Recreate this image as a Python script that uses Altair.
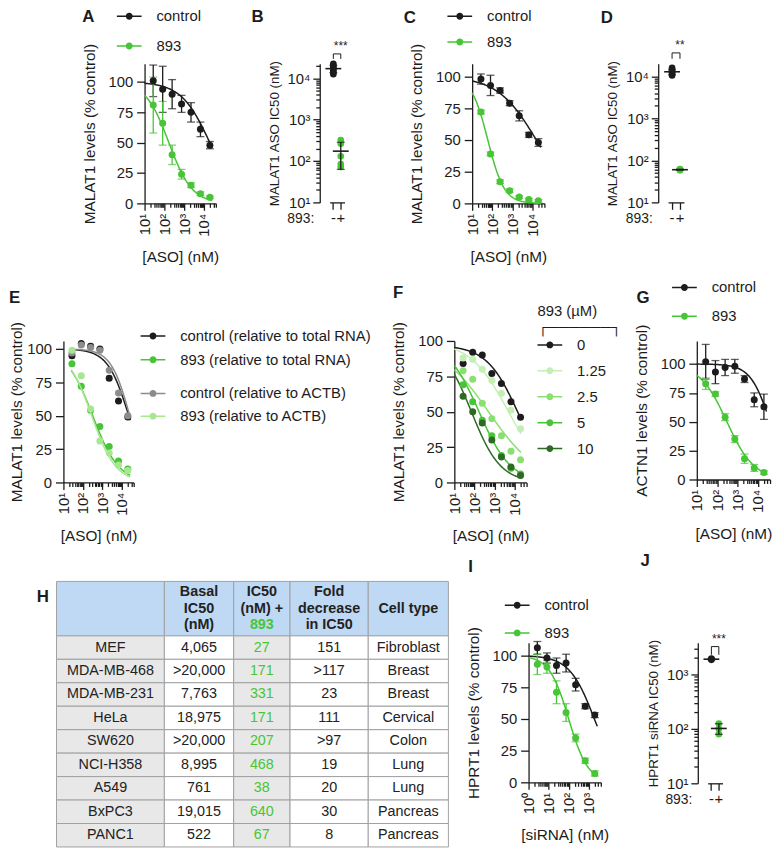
import altair as alt
import pandas as pd

FONT = "Liberation Sans"
INK = "#1c1c1c"
GREEN = "#47c536"
GRAY = "#8c8c8c"
LGREEN = "#a8e693"
F_COLORS = [INK, "#c4efb4", "#8ae06f", "#48c438", "#2d6b25"]
TXT = "#222222"

# ---------------- data ----------------
ASO_DOSES = [27.4, 82.3, 247, 741, 2222, 6667, 20000]
SIRNA_DOSES = [2.74, 8.23, 24.7, 74.1, 222, 667, 2000]

# fits: top, bottom, logIC50, hill
A_CTRL = [101, 94, 90, 82, 75, 61, 48]
A_CTRL_SD = [13, 19, 12, 7, 8, 6, 3]
A_893 = [81, 66, 40, 24, 15, 8, 5]
A_893_SD = [23, 18, 8, 4, 2, 1.5, 1]
A_FITS = [[100, 0, 4.3, 0.6], [100, 0, 2.23, 0.74]]

C_CTRL = [98, 93, 89, 79, 69, 54, 48]
C_CTRL_SD = [4, 8, 2, 2, 4, 2, 3]
C_893 = [72, 39, 17, 10, 5, 3, 2]
C_893_SD = [1.5, 1.5, 1.5, 1.5, 1, 1, 1]
C_FITS = [[100, 0, 4.2, 0.45], [100, 0, 1.78, 1.06]]

E_NAMES_1 = ["control (relative to total RNA)", "893 (relative to total RNA)"]
E_NAMES_2 = ["control (relative to ACTB)", "893 (relative to ACTB)"]
E_CTRL_TOT = [95, 104, 102, 100, 78, 61, 49]
E_893_TOT = [89, 72, 54, 42, 27, 16, 10]
E_CTRL_ACTB = [97, 103, 101, 99, 84, 67, 50]
E_893_ACTB = [99, 80, 55, 31, 22, 13, 9]
E_FITS_1 = [[100, 0, 4.35, 0.8], [100, 0, 2.5, 0.65]]
E_FITS_2 = [[100, 0, 4.4, 0.9], [100, 0, 2.45, 0.7]]

F_LEVELS = ["0", "1.25", "2.5", "5", "10"]
F_VALUES = [
    [84, 92, 90, 77, 70, 57, 46],
    [88, 87, 80, 72, 63, 51, 38],
    [79, 73, 56, 45, 33, 22, 16],
    [69, 57, 44, 33, 19, 10, 6],
    [61, 50, 42, 30, 18, 11, 5],
]
F_FITS = [[97, 0, 4.2, 0.55], [100, 0, 3.7, 0.45], [100, 0, 2.7, 0.35],
          [100, 0, 2.23, 0.55], [100, 0, 1.85, 0.6]]

G_CTRL = [102, 93, 97, 98, 87, 69, 63]
G_CTRL_SD = [15, 10, 7, 6, 3, 6, 11]
G_893 = [83, 74, 54, 35, 18, 10, 6]
G_893_SD = [5, 2, 3, 3, 4, 3, 1.5]
G_FITS = [[100, 0, 4.6, 0.9], [100, 0, 2.48, 0.65]]

I_CTRL = [106, 98, 92, 94, 77, 60, 53]
I_CTRL_SD = [5, 4, 6, 7, 5, 2, 2]
I_893 = [93, 91, 71, 55, 35, 17, 7]
I_893_SD = [8, 5, 9, 7, 3, 2, 2]
I_FITS = [[100, 0, 3.28, 0.7], [100, 0, 2.0, 0.9]]

B_CTRL = [12500, 14000, 15500, 17000, 18500, 20000, 22500]
B_893 = [320, 260, 130, 85, 72]
D_CTRL = [10500, 11500, 12500, 13000, 14000, 16000]
D_893 = [58, 59, 60, 61, 62]
J_CTRL = [1850, 1900, 1950]
J_893 = [80, 100, 125]
B_BRACKET = [10 ** 4.59, 10 ** 4.47]
D_BRACKET = [10 ** 4.56, 10 ** 4.42]
J_BRACKET = [10 ** 3.51, 10 ** 3.36]

TABLE_ROWS = ["MEF", "MDA-MB-468", "MDA-MB-231", "HeLa", "SW620", "NCI-H358", "A549", "BxPC3", "PANC1"]
TABLE_BASAL = ["4,065", ">20,000", "7,763", "18,975", ">20,000", "8,995", "761", "19,015", "522"]
TABLE_893 = ["27", "171", "331", "171", "207", "468", "38", "640", "67"]
TABLE_FOLD = ["151", ">117", "23", "111", ">97", "19", "20", "30", "8"]
TABLE_TYPE = ["Fibroblast", "Breast", "Breast", "Cervical", "Colon", "Lung", "Lung", "Pancreas", "Pancreas"]
TABLE_HEAD = ["", "Basal\nIC50\n(nM)", "IC50\n(nM) +", "Fold\ndecrease\nin IC50", "Cell type"]
TABLE_HEAD_GREEN = ["", "", "893", "", ""]

# ---------------- helpers ----------------
SUPS = "['⁰','¹','²','³','⁴','⁵']"
IS_MAJOR = "abs(log(datum.value)/LN10 - round(log(datum.value)/LN10)) < 0.001"
LOG_LABEL = f"({IS_MAJOR}) ? '10' + {SUPS}[round(log(datum.value)/LN10)] : ''"
SYMBOL = ("M-1,-0.06L-0.2,-0.06L-0.2,0.06L-1,0.06Z"
          "M0.2,-0.06L1,-0.06L1,0.06L0.2,0.06Z"
          "M-0.28,0A0.28,0.28,0,1,1,0.28,0A0.28,0.28,0,1,1,-0.28,0Z")


def log_ticks(lo, hi):
    out = []
    for e in range(-1, 7):
        for m in range(1, 10):
            v = round(m * 10 ** e, 6)
            if lo * 0.999 <= v <= hi * 1.001:
                out.append(v)
    return out


def tick_sz(major, minor):
    return {"condition": {"test": IS_MAJOR, "value": major}, "value": minor}


def spacer(w, h):
    return alt.Chart(pd.DataFrame({"z": []})).mark_point(opacity=0).properties(width=w, height=h)


def leg(x, y, row_pad, title=None, title_pad=0):
    kw = dict(orient="none", legendX=x, legendY=y, symbolType=SYMBOL, symbolSize=625,
              symbolStrokeWidth=0, symbolOpacity=1, rowPadding=row_pad, labelOffset=15,
              padding=0, labelLimit=400, labelFontSize=15, labelFont=FONT, labelColor=INK)
    if title:
        kw.update(title=title, titlePadding=title_pad, titleFontSize=15, titleFont=FONT,
                  titleFontWeight="normal", titleColor=INK, titleLineHeight=16)
    else:
        kw["title"] = None
    return alt.Legend(**kw)


def make_x(xdom, title):
    return alt.X("dose:Q", title=title,
                 scale=alt.Scale(type="log", domain=xdom, nice=False),
                 axis=alt.Axis(values=log_ticks(*xdom), labelExpr=LOG_LABEL, labelAngle=270,
                               labelOverlap=False, labelFlush=False, tickSize=tick_sz(7, 4),
                               labelPadding=3, titlePadding=14))


def make_y(ydom, title, field="val", tpad=11):
    return alt.Y(f"{field}:Q", title=title, scale=alt.Scale(domain=ydom, nice=False),
                 axis=alt.Axis(values=[0, 25, 50, 75, 100], tickSize=8, labelPadding=4,
                               titlePadding=tpad))


def curve(name, fit, rng, X, Y, cs):
    top, bot, lic, hill = fit
    expr = f"{bot} + ({top} - {bot}) / (1 + pow(10, (datum.lx - {lic}) * {hill}))"
    return (alt.Chart(alt.sequence(rng[0], rng[1], 0.025, as_="lx"))
            .transform_calculate(dose="pow(10, datum.lx)", val=expr, s=f"'{name}'")
            .mark_line(strokeWidth=1.5)
            .encode(x=X, y=Y, color=alt.Color("s:N", scale=cs, legend=None)))


def series_group(names, colors, vals, sds, fits, doses, rng, X, ydom, ytitle, legend, tpad=11):
    cs = alt.Scale(domain=names, range=colors)
    Y = make_y(ydom, ytitle, tpad=tpad)
    layers = [curve(n, f, rng, X, Y, cs) for n, f in zip(names, fits)]
    rows = []
    for i, n in enumerate(names):
        for j, d in enumerate(doses):
            v = vals[i][j]
            e = sds[i][j] if sds else 0
            rows.append({"dose": d, "val": v, "lo": v - e, "hi": v + e, "s": n})
    df = pd.DataFrame(rows)
    if sds:
        layers.append(alt.Chart(df).mark_errorbar(ticks={"size": 8}, thickness=1.3).encode(
            x=X, y=make_y(ydom, ytitle, "lo", tpad), y2="hi:Q",
            color=alt.Color("s:N", scale=cs, legend=None)))
    layers.append(alt.Chart(df).mark_point(filled=True, size=50, opacity=1).encode(
        x=X, y=Y, color=alt.Color("s:N", scale=cs, legend=legend)))
    return layers


def dot_panel(letter, tdx, tdy, ctrl, treated, ytop, ytitle, width, height, xr, bracket, stars):
    df = pd.DataFrame({"g": ["-"] * len(ctrl) + ["+"] * len(treated), "v": ctrl + treated})
    xs = alt.Scale(domain=["-", "+"], range=xr)
    ax = alt.Axis(title="893:", labelAngle=0, labelFontSize=15, tickSize=7, labelPadding=1,
                  titleAngle=0, titleX=-6, titleY=16, titleAlign="right", titleBaseline="middle",
                  titleFontSize=14, labelFlush=False)
    X = alt.X("g:N", scale=xs, axis=ax)
    ys = alt.Scale(type="log", domain=[10, ytop], nice=False)
    yax = alt.Axis(values=log_ticks(10, ytop), labelExpr=LOG_LABEL, tickSize=tick_sz(7, 4),
                   labelPadding=3, titlePadding=6, labelOverlap=False, titleFontSize=13.5)
    Y = alt.Y("v:Q", title=ytitle, scale=ys, axis=yax)
    cs = alt.Scale(domain=["-", "+"], range=[INK, GREEN])
    pts = alt.Chart(df).mark_point(filled=True, size=45, opacity=1).encode(
        x=X, y=Y, color=alt.Color("g:N", scale=cs, legend=None))
    err = alt.Chart(df).mark_errorbar(extent="stdev", ticks={"size": 8}, thickness=1.3,
                                      color=INK).encode(x=X, y=Y)
    mean = alt.Chart(df).mark_tick(color=INK, thickness=1.6, size=16).encode(
        x=X, y=alt.Y("mean(v):Q", title=ytitle, scale=ys, axis=yax))
    bdf = pd.DataFrame({"g": ["-"], "g2": ["+"], "y": [bracket[0]], "y2": [bracket[1]], "t": [stars]})
    edf = pd.DataFrame({"g": ["-", "+"], "y": [bracket[0]] * 2, "y2": [bracket[1]] * 2})
    Yb = alt.Y("y:Q", title=ytitle, scale=ys, axis=yax)
    top_rule = alt.Chart(bdf).mark_rule(color=INK, strokeWidth=1).encode(x=X, x2="g2:N", y=Yb)
    end_rule = alt.Chart(edf).mark_rule(color=INK, strokeWidth=1).encode(x=X, y=Yb, y2="y2:Q")
    txt = alt.Chart(bdf).mark_text(font=FONT, fontSize=12, color=INK, dx=(xr[1] - xr[0]) / 2,
                                   dy=-1, baseline="bottom").encode(x=X, y=Yb, text="t:N")
    return alt.layer(pts, err, mean, top_rule, end_rule, txt).properties(
        width=width, height=height, title=alt.TitleParams(letter, dx=tdx, dy=tdy))


def dose_panel(layers, letter, tdx, tdy, width, height):
    return alt.layer(*layers).resolve_scale(color="independent").properties(
        width=width, height=height, title=alt.TitleParams(letter, dx=tdx, dy=tdy))


# ---------------- panels ----------------
X_ASO = make_x([10, 40000], "[ASO] (nM)")
X_SI = make_x([1, 4000], "[siRNA] (nM)")

A = dose_panel(series_group(
    ["control", "893"], [INK, GREEN], [A_CTRL, A_893], [A_CTRL_SD, A_893_SD], A_FITS,
    ASO_DOSES, [1, 4.45], X_ASO, [0, 115], "MALAT1 levels (% control)", leg(-28, -60.5, 9)),
    "A", -63, 26.2, 72, 141)

C = dose_panel(series_group(
    ["control", "893"], [INK, GREEN], [C_CTRL, C_893], [C_CTRL_SD, C_893_SD], C_FITS,
    ASO_DOSES, [1, 4.45], X_ASO, [0, 110], "MALAT1 levels (% control)", leg(-25, -60.5, 5)),
    "C", -69, 27.2, 73, 141)

B = dot_panel("B", -69, -10, B_CTRL, B_893, 10 ** 4.35, "MALAT1 ASO IC50 (nM)", 29, 140,
              [10, 25], B_BRACKET, "***")
D = dot_panel("D", -58, -8, D_CTRL, D_893, 10 ** 4.3, "MALAT1 ASO IC50 (nM)", 36, 140,
              [10, 26], D_BRACKET, "**")
J = dot_panel("J", -58, -59, J_CTRL, J_893, 3800, "HPRT1 siRNA IC50 (nM)", 35, 142,
              [10, 25], J_BRACKET, "***")

E = dose_panel(
    series_group(E_NAMES_1, [INK, GREEN], [E_CTRL_TOT, E_893_TOT], None, E_FITS_1,
                 ASO_DOSES, [1.4, 4.45], X_ASO, [0, 106], "MALAT1 levels (% control)",
                 leg(78, -17.5, 3), tpad=2)
    + series_group(E_NAMES_2, [GRAY, LGREEN], [E_CTRL_ACTB, E_893_ACTB], None, E_FITS_2,
                   ASO_DOSES, [1.4, 4.45], X_ASO, [0, 106], "MALAT1 levels (% control)",
                   leg(78, 40.5, 2), tpad=2),
    "E", -55, -11, 71, 143)

F = dose_panel(series_group(
    F_LEVELS, F_COLORS, F_VALUES, None, F_FITS, ASO_DOSES, [1, 4.35], X_ASO, [0, 100],
    "MALAT1 levels (% control)",
    leg(84, -37.5, 5.2, title=["893 (µM)", "┌──────┐"], title_pad=-2)),
    "F", -62, 2.2, 73, 143)

G = dose_panel(series_group(
    ["control", "893"], [INK, GREEN], [G_CTRL, G_893], [G_CTRL_SD, G_893_SD], G_FITS,
    ASO_DOSES, [1, 4.45], X_ASO, [0, 120], "ACTN1 levels (% control)", leg(-25, -66.5, 8)),
    "G", -61, 36.2, 74, 140)

I = dose_panel(series_group(
    ["control", "893"], [INK, GREEN], [I_CTRL, I_893], [I_CTRL_SD, I_893_SD], I_FITS,
    SIRNA_DOSES, [0, 3.45], X_SI, [0, 110], "HPRT1 levels (% control)", leg(-24, -50.5, 7)),
    "I", -61, -12.8, 73, 141)

# ---------------- table ----------------
TABLE_W = [109, 70, 57, 79, 81]
HEADER_H = 55
ROW_H = 23.7
SHADE = "#e8e8e8"
HEAD_BLUE = "#bfd8f4"
BORDER = "#a0a0a0"
TABLE_COLS = [TABLE_ROWS, TABLE_BASAL, TABLE_893, TABLE_FOLD, TABLE_TYPE]
TABLE_COL_COLOR = [TXT, TXT, GREEN, TXT, TXT]
TABLE_COL_FILL = [SHADE, "#ffffff", SHADE, "#ffffff", "#ffffff"]
LINE_H = 16.5


def table_head(i):
    df = pd.DataFrame({"h": ["h"], "t": [TABLE_HEAD[i]], "tg": [TABLE_HEAD_GREEN[i]]})
    y = alt.Y("h:N", axis=None, scale=alt.Scale(paddingInner=0, paddingOuter=0))
    rect = alt.Chart(df).mark_rect(fill=HEAD_BLUE, stroke=BORDER, strokeWidth=1).encode(y=y)
    layers = [rect]
    if TABLE_HEAD_GREEN[i]:
        # black lines occupy rows 1-2 of a 3-line block, the green word row 3
        layers.append(alt.Chart(df).mark_text(
            font=FONT, fontSize=14.5, fontWeight="bold", lineBreak="\n", lineHeight=LINE_H,
            color=TXT, dy=-LINE_H).encode(y=y, text="t:N"))
        layers.append(alt.Chart(df).mark_text(
            font=FONT, fontSize=14.5, fontWeight="bold", color=GREEN, dy=LINE_H).encode(
            y=y, text="tg:N"))
    elif TABLE_HEAD[i]:
        n = TABLE_HEAD[i].count("\n") + 1
        layers.append(alt.Chart(df).mark_text(
            font=FONT, fontSize=14.5, fontWeight="bold", lineBreak="\n", lineHeight=LINE_H,
            color=TXT, dy=-(n - 1) * LINE_H / 2).encode(y=y, text="t:N"))
    ch = alt.layer(*layers).properties(width=TABLE_W[i], height=HEADER_H)
    if i == 0:
        ch = ch.properties(title=alt.TitleParams("H", dx=-20, dy=29.7))
    return ch


def table_body(i):
    df = pd.DataFrame({"row": TABLE_ROWS, "txt": TABLE_COLS[i]})
    y = alt.Y("row:N", sort=TABLE_ROWS, axis=None,
              scale=alt.Scale(paddingInner=0, paddingOuter=0))
    rect = alt.Chart(df).mark_rect(fill=TABLE_COL_FILL[i], stroke=BORDER, strokeWidth=1).encode(y=y)
    txt = alt.Chart(df).mark_text(font=FONT, fontSize=14.5, color=TABLE_COL_COLOR[i]).encode(
        y=y, text="txt:N")
    return alt.layer(rect, txt).properties(width=TABLE_W[i], height=ROW_H * 9)


# nested concats count as zero-size in a flush layout, so spacers carry their extent
TABLE = alt.vconcat(
    alt.hconcat(*[table_head(i) for i in range(5)], spacing=0, bounds="flush"),
    spacer(1, HEADER_H),
    alt.hconcat(*[table_body(i) for i in range(5)], spacing=0, bounds="flush"),
    spacing=0, bounds="flush")

# ---------------- layout ----------------
row1 = alt.hconcat(spacer(138, 1), A, spacer(105, 1), B, spacer(125, 1), C, spacer(115, 1), D,
                   spacing=0, bounds="flush")
row2 = alt.hconcat(spacer(56, 1), E, spacer(324, 1), F, spacer(172, 1), G,
                   spacing=0, bounds="flush")
row3 = alt.hconcat(spacer(49, 1), TABLE, spacer(396 + 81, 1),
                   alt.vconcat(spacer(1, 62), I, spacing=0, bounds="flush"),
                   spacer(73 + 98, 1),
                   alt.vconcat(spacer(1, 62), J, spacing=0, bounds="flush"),
                   spacing=0, bounds="flush")

chart = alt.vconcat(row1, spacer(1, 280), row2, spacer(1, 243), row3, spacing=0, bounds="flush")
chart = chart.properties(
    autosize=alt.AutoSizeParams(type="none"),
    padding={"left": 0, "top": 52, "right": 774, "bottom": 794},
    background="white",
).configure_view(stroke=None).configure_axis(
    labelFont=FONT, titleFont=FONT, labelFontSize=15, titleFontSize=15.5, titleFontWeight="normal",
    labelColor=INK, titleColor=INK, domainColor=INK, tickColor=INK, domainWidth=1.3, tickWidth=1.3,
    grid=False
).configure_title(font=FONT, fontSize=17, fontWeight="bold", color=INK, anchor="start",
                  frame="group", offset=0, baseline="top")

chart.save("out.html", embed_options={"renderer": "svg", "actions": False})
